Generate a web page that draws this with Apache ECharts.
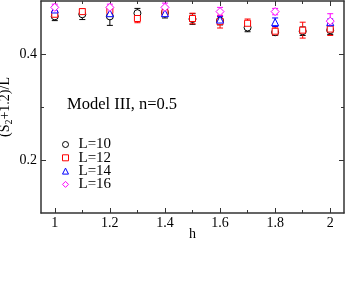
<!DOCTYPE html>
<html><head><meta charset="utf-8">
<script src="https://cdn.jsdelivr.net/npm/echarts@6/dist/echarts.min.js"></script>
<style>html,body{margin:0;padding:0;background:#fff}#c{width:346px;height:292px}</style>
</head><body><div id="c"></div>
<script>
const hAll = [1.0, 1.1, 1.2, 1.3, 1.4, 1.5, 1.6, 1.7, 1.8, 1.9, 2.0];
const hEven = [1.0, 1.2, 1.4, 1.6, 1.8, 2.0];
const L10 = [0.471, 0.475, 0.471, 0.477, 0.478, 0.466, 0.463, 0.450, 0.441, 0.443, 0.445];
const L10err = [0.008, 0.010, 0.017, 0.009, 0.010, 0.010, 0.008, 0.008, 0.006, 0.008, 0.008];
const L12 = [0.475, 0.480, 0.482, 0.467, 0.478, 0.467, 0.461, 0.458, 0.443, 0.445, 0.447];
const L12err = [0.005, 0.005, 0.006, 0.008, 0.006, 0.010, 0.012, 0.008, 0.008, 0.015, 0.012];
const L14 = [0.484, 0.477, 0.477, 0.465, 0.460, 0.460];
const L14err = [0.006, 0.006, 0.006, 0.006, 0.008, 0.006];
const L16 = [0.488, 0.488, 0.488, 0.480, 0.480, 0.462];
const L16err = [0.006, 0.006, 0.008, 0.008, 0.006, 0.014];
const xTicksMajor = [1, 1.2, 1.4, 1.6, 1.8, 2];
const xTicksMinor = [1.1, 1.3, 1.5, 1.7, 1.9];
const yTicksMajor = [0.2, 0.4];
const yTicksMinor = [0.3];

const FONT = 'Liberation Serif';
const chart = echarts.init(document.getElementById('c'));

function errSeries(name, xs, ys, es, color) {
  return {
    type: 'custom', name: name + '_err', silent: true, z: 2,
    data: xs.map((x, i) => [x, ys[i] - es[i], ys[i] + es[i]]),
    renderItem: function (params, api) {
      const lo = api.coord([api.value(0), api.value(1)]);
      const hi = api.coord([api.value(0), api.value(2)]);
      const w = 3;
      const st = { stroke: color, lineWidth: 1 };
      return { type: 'group', children: [
        { type: 'line', shape: { x1: lo[0], y1: lo[1], x2: hi[0], y2: hi[1] }, style: st },
        { type: 'line', shape: { x1: lo[0] - w, y1: lo[1], x2: lo[0] + w, y2: lo[1] }, style: st },
        { type: 'line', shape: { x1: hi[0] - w, y1: hi[1], x2: hi[0] + w, y2: hi[1] }, style: st }
      ]};
    }
  };
}
function ptSeries(name, xs, ys, color, symbol, size) {
  return {
    type: 'scatter', name: name, symbol: symbol, symbolSize: size, z: 3,
    data: xs.map((x, i) => [x, ys[i]]),
    itemStyle: { color: '#fff', borderColor: color, borderWidth: 1, opacity: 1 }
  };
}

const axLine = { show: true, lineStyle: { color: '#333', width: 1.5 } };
function xAx(pos, custom, len, labels, line) {
  return {
    type: 'value', position: pos, min: 0.95, max: 2.05,
    axisLine: line ? axLine : { show: false },
    splitLine: { show: false },
    axisTick: { show: true, inside: true, length: len, customValues: custom, lineStyle: { color: '#333', width: 1 } },
    axisLabel: labels ? { show: true, customValues: custom, fontFamily: FONT, fontSize: 14, color: '#000', margin: 3 } : { show: false },
    name: labels ? 'h' : '', nameLocation: 'middle', nameGap: 14, nameMoveOverlap: false,
    nameTextStyle: { fontFamily: FONT, fontSize: 14, color: '#000' }
  };
}
function yAx(pos, custom, len, labels, line) {
  return {
    type: 'value', position: pos, min: 0.1, max: 0.5,
    axisLine: line ? axLine : { show: false },
    splitLine: { show: false },
    axisTick: { show: true, inside: true, length: len, customValues: custom, lineStyle: { color: '#333', width: 1 } },
    axisLabel: labels ? { show: true, customValues: custom, fontFamily: FONT, fontSize: 14, color: '#000', margin: 4, formatter: v => v.toFixed(1) } : { show: false },
    name: labels ? '(S{sub|2}+1.2)/L' : '', nameLocation: 'middle', nameGap: 27, nameRotate: 90, nameMoveOverlap: false,
    nameTextStyle: { fontFamily: FONT, fontSize: 14, color: '#000',
      rich: { sub: { fontFamily: FONT, fontSize: 10, color: '#000', padding: [8, 0, 0, 0] } } }
  };
}

chart.setOption({
  animation: false,
  backgroundColor: '#fff',
  grid: { left: 41, right: 2, top: 1, bottom: 79, containLabel: false, outerBoundsMode: 'none' },
  xAxis: [
    xAx('bottom', xTicksMajor, 5, true, true),
    xAx('bottom', xTicksMinor, 3, false, false),
    xAx('top', xTicksMajor, 5, false, true),
    xAx('top', xTicksMinor, 3, false, false)
  ],
  yAxis: [
    yAx('left', yTicksMajor, 5, true, true),
    yAx('left', yTicksMinor, 3, false, false),
    yAx('right', yTicksMajor, 5, false, true),
    yAx('right', yTicksMinor, 3, false, false)
  ],
  legend: {
    orient: 'vertical', left: 62, top: 137, itemGap: -1.7, padding: 0,
    itemWidth: 6, itemHeight: 6,
    itemStyle: { borderWidth: 1 },
    data: ['L=10', 'L=12', 'L=14', 'L=16'],
    textStyle: { fontFamily: FONT, fontSize: 15, color: '#000', lineHeight: 13, padding: [0, 0, 0, 5] }
  },
  graphic: [{
    type: 'text', left: 67, top: 96,
    style: { text: 'Model III, n=0.5', fontFamily: FONT, fontSize: 16.5, fill: '#000' }
  }],
  series: [
    errSeries('L=10', hAll, L10, L10err, '#000'),
    ptSeries('L=10', hAll, L10, '#000', 'circle', 7),
    errSeries('L=12', hAll, L12, L12err, '#ff0000'),
    ptSeries('L=12', hAll, L12, '#ff0000', 'rect', 6),
    errSeries('L=14', hEven, L14, L14err, '#0000ff'),
    ptSeries('L=14', hEven, L14, '#0000ff', 'triangle', 7),
    errSeries('L=16', hEven, L16, L16err, '#ff00ff'),
    ptSeries('L=16', hEven, L16, '#ff00ff', 'diamond', 8)
  ]
});
</script></body></html>
